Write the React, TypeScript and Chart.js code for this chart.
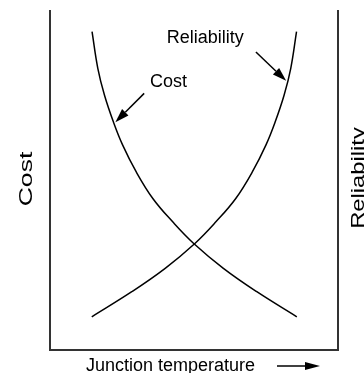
import React, { useEffect, useRef } from "react";
import { Chart, registerables } from "chart.js";

Chart.register(...registerables);

// ---- data ----
const costTemps = [14.6, 16.6, 18.9, 22.0, 25.2, 29.9, 35.7, 42.6, 49.8, 60.2, 71.8, 85.7];
const costValues = [93.9, 83.1, 75.2, 67.3, 60.5, 52.6, 44.7, 37.8, 31.5, 24.1, 17.2, 9.8];
const reliabilityTemps = [14.5, 28.4, 40.0, 50.4, 57.6, 64.5, 70.3, 75.0, 78.2, 81.3, 83.6, 85.6];
const reliabilityValues = [9.8, 17.2, 24.1, 31.5, 37.8, 44.7, 52.6, 60.5, 67.3, 75.2, 83.1, 93.9];

const xAxisTitle = "Junction temperature";
const leftAxisTitle = "Cost";
const rightAxisTitle = "Reliability";

// callout labels and arrows, in data units
const calloutLabels = ["Cost", "Reliability"];
const calloutLabelX = [34.7, 40.5];
const calloutLabelY = [77.6, 90.6];
const calloutArrowFromX = [32.7, 71.5];
const calloutArrowFromY = [75.7, 87.9];
const calloutArrowToX = [22.7, 82.0];
const calloutArrowToY = [67.2, 79.4];

const FONT = '"Liberation Sans", Arial, Helvetica, sans-serif';

function drawArrow(
  ctx: CanvasRenderingContext2D,
  x1: number,
  y1: number,
  x2: number,
  y2: number,
  headLen: number,
  headW: number
) {
  const ang = Math.atan2(y2 - y1, x2 - x1);
  const bx = x2 - headLen * Math.cos(ang);
  const by = y2 - headLen * Math.sin(ang);
  ctx.beginPath();
  ctx.moveTo(x1, y1);
  ctx.lineTo(bx, by);
  ctx.stroke();
  ctx.beginPath();
  ctx.moveTo(x2, y2);
  ctx.lineTo(bx + (headW / 2) * Math.sin(ang), by - (headW / 2) * Math.cos(ang));
  ctx.lineTo(bx - (headW / 2) * Math.sin(ang), by + (headW / 2) * Math.cos(ang));
  ctx.closePath();
  ctx.fill();
}

function drawVerticalTitle(
  ctx: CanvasRenderingContext2D,
  text: string,
  baselineX: number,
  centerY: number,
  stretch: number
) {
  ctx.save();
  ctx.translate(baselineX, centerY);
  ctx.rotate(-Math.PI / 2);
  ctx.scale(stretch, 1);
  ctx.textAlign = "center";
  ctx.textBaseline = "alphabetic";
  ctx.fillText(text, 0, 0);
  ctx.restore();
}

const annotationPlugin = {
  id: "annotations",
  afterDraw(chart: any) {
    const { ctx, chartArea, scales } = chart;
    const xs = scales.x;
    const ys = scales.y;
    ctx.save();
    ctx.fillStyle = "#000";
    ctx.strokeStyle = "#000";
    ctx.lineWidth = 1.5;
    ctx.font = `18px ${FONT}`;
    ctx.textAlign = "left";
    ctx.textBaseline = "alphabetic";

    // callouts
    for (let i = 0; i < calloutLabels.length; i++) {
      ctx.fillText(
        calloutLabels[i],
        xs.getPixelForValue(calloutLabelX[i]),
        ys.getPixelForValue(calloutLabelY[i])
      );
      drawArrow(
        ctx,
        xs.getPixelForValue(calloutArrowFromX[i]),
        ys.getPixelForValue(calloutArrowFromY[i]),
        xs.getPixelForValue(calloutArrowToX[i]),
        ys.getPixelForValue(calloutArrowToY[i]),
        14,
        9
      );
    }

    // x axis title with arrow
    ctx.fillText(xAxisTitle, chartArea.left + 36, chartArea.bottom + 21);
    drawArrow(ctx, chartArea.left + 227, chartArea.bottom + 16, chartArea.left + 270, chartArea.bottom + 16, 15, 8);

    // side axis titles
    ctx.font = `19px ${FONT}`;
    drawVerticalTitle(ctx, leftAxisTitle, chartArea.left - 18, 179, 1.4);
    drawVerticalTitle(ctx, rightAxisTitle, chartArea.right + 26, 178, 1.25);

    ctx.restore();
  },
};

const axisBase = {
  type: "linear" as const,
  min: 0,
  max: 100,
  grid: { display: false, drawTicks: false, tickLength: 0 },
  ticks: { display: false },
  border: { display: true, color: "#333", width: 2 },
  title: { display: false },
};

export default function App() {
  const canvasRef = useRef<HTMLCanvasElement | null>(null);

  useEffect(() => {
    if (!canvasRef.current) return;
    const chart = new Chart(canvasRef.current, {
      type: "line",
      data: {
        datasets: [
          {
            label: "Cost",
            data: costTemps.map((t, i) => ({ x: t, y: costValues[i] })),
            borderColor: "#000",
            borderWidth: 1.5,
            pointRadius: 0,
            fill: false,
            tension: 0.4,
            yAxisID: "y",
          },
          {
            label: "Reliability",
            data: reliabilityTemps.map((t, i) => ({ x: t, y: reliabilityValues[i] })),
            borderColor: "#000",
            borderWidth: 1.5,
            pointRadius: 0,
            fill: false,
            tension: 0.4,
            yAxisID: "y2",
          },
        ],
      },
      options: {
        animation: false,
        responsive: false,
        maintainAspectRatio: false,
        layout: { padding: { left: 50, top: 11, right: 26, bottom: 23 } },
        plugins: {
          legend: { display: false },
          tooltip: { enabled: false },
        },
        scales: {
          x: { ...axisBase, position: "bottom" },
          y: { ...axisBase, position: "left" },
          y2: { ...axisBase, position: "right" },
        },
      },
      plugins: [annotationPlugin],
    });
    return () => chart.destroy();
  }, []);

  return (
    <div
      style={{
        position: "fixed",
        left: 0,
        top: 0,
        width: 364,
        height: 373,
        background: "#fff",
      }}
    >
      <canvas ref={canvasRef} width={364} height={373} style={{ display: "block" }} />
    </div>
  );
}
